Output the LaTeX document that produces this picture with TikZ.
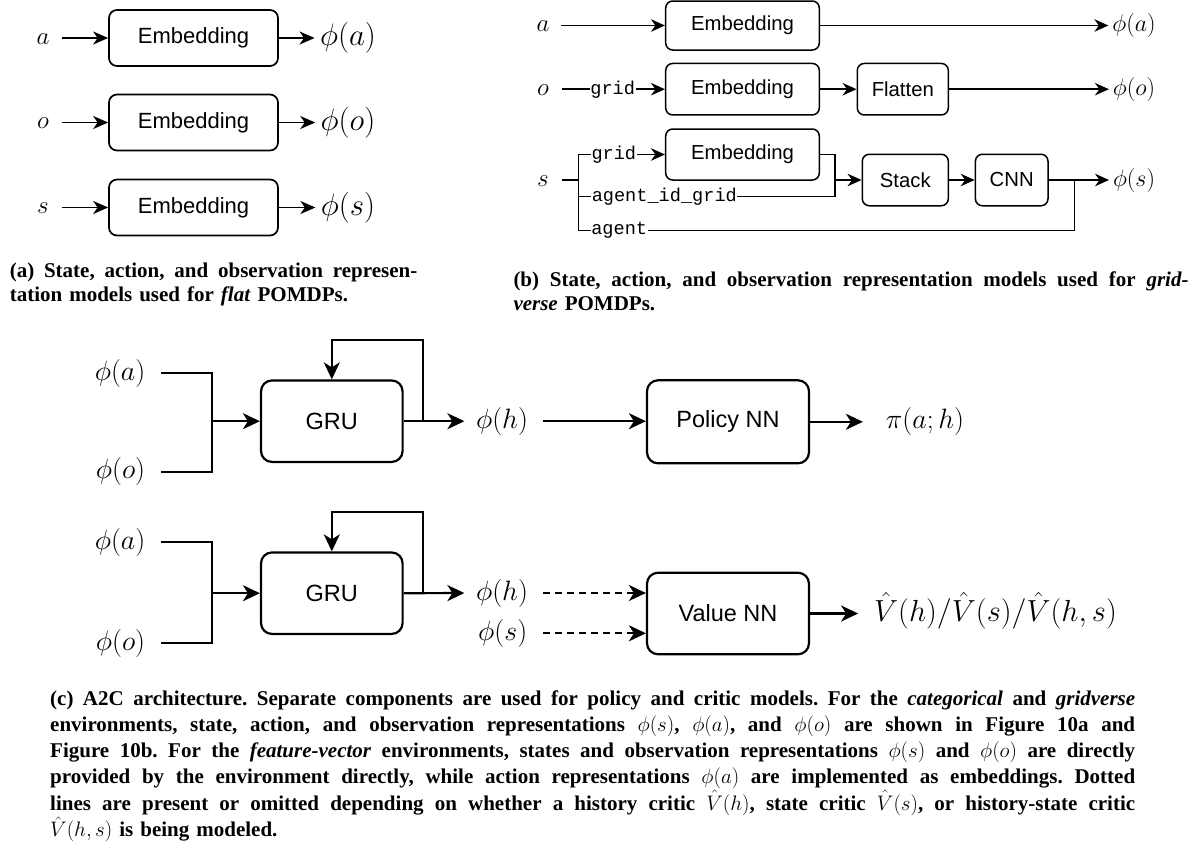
\documentclass[tikz,border=0pt]{standalone}
\usepackage{fix-cm}
\usepackage[no-math]{fontspec}
\newfontfamily\sansbox{Liberation Sans}
\newfontfamily\monobox{Liberation Mono}
\newfontfamily\capfont{Liberation Serif}
\usetikzlibrary{arrows.meta}
\newcommand{\jline}[2]{\makebox[#1][s]{\frenchspacing\spaceskip=0pt\xspaceskip=0pt #2}}
\tikzset{
  mlab/.style={inner sep=0pt, outer sep=0pt, font=\fontsize{#1}{#1}\selectfont, text height={0.75*#1pt}, text depth={0.25*#1pt}},
  boxA/.style={draw, line width=1.7pt, rounded corners=8pt, inner sep=0pt, minimum width=169pt, minimum height=56pt, font=\sansbox\fontsize{22}{24}\selectfont},
  boxB/.style={draw, line width=1.5pt, rounded corners=7pt, inner sep=0pt, minimum height=51.5pt, font=\sansbox\fontsize{20.3}{22}\selectfont},
  boxC/.style={draw, line width=2.2pt, rounded corners=11pt, inner sep=0pt, minimum height=81.5pt, font=\sansbox\fontsize{23.5}{25}\selectfont},
  monol/.style={fill=white, inner sep=0.6pt, font=\monobox\fontsize{18.6}{20}\selectfont},
  captext/.style={inner sep=0pt, anchor=base west, align=left},
  arrA/.style={line width=1.7pt, -{Stealth[length=15pt,width=13pt,inset=4.5pt]}},
  lnB/.style={line width=1.5pt},
  arrB/.style={line width=1.5pt, -{Stealth[length=14pt,width=12.5pt,inset=4.5pt]}},
  lnC/.style={line width=2.2pt},
  arrC/.style={line width=2.2pt, -{Stealth[length=17pt,width=16pt,inset=5pt]}},
  dsh/.style={dash pattern=on 7pt off 5pt},
}
\begin{document}
\begin{tikzpicture}[x=1pt,y=-1pt]
\useasboundingbox (0,0) rectangle (1200,844);

% ---------------- panel (a)
\node[mlab=25] (aa) at (43,38) {$a$};
\node[mlab=25] (ao) at (43,122.5) {$o$};
\node[mlab=25] (as) at (43,207.5) {$s$};
\node[boxA] (ea) at (193.5,38) {Embedding};
\node[boxA] (eo) at (193.5,122.5) {Embedding};
\node[boxA] (es) at (193.5,207.5) {Embedding};
\node[mlab=31] (pa) at (348,38) {$\phi(a)$};
\node[mlab=31] (po) at (348,122.5) {$\phi(o)$};
\node[mlab=31] (ps) at (348,207.5) {$\phi(s)$};
\draw[arrA, shorten <=12.5pt] (aa.east) -- (ea.west);
\draw[arrA, shorten <=13pt] (ao.east) -- (eo.west);
\draw[arrA, shorten <=13pt] (as.east) -- (es.west);
\draw[arrA, shorten >=5.5pt] (ea.east) -- (pa.west);
\draw[arrA, shorten >=5.5pt] (eo.east) -- (po.west);
\draw[arrA, shorten >=5.5pt] (es.east) -- (ps.west);

% ---------------- panel (b)
\node[mlab=25] (ba) at (543,25.5) {$a$};
\node[mlab=25] (bo) at (543,89.2) {$o$};
\node[mlab=25] (bs) at (543,180) {$s$};
\node[boxB, minimum width=153.6pt, minimum height=49pt] (be1) at (742.5,25.5) {Embedding};
\node[boxB, minimum width=153.6pt] (be2) at (742.5,89.2) {Embedding};
\node[boxB, minimum width=153.6pt, minimum height=51pt] (be3) at (742.5,154.5) {Embedding};
\node[boxB, minimum width=91pt] (flat) at (902.8,89.2) {Flatten};
\node[boxB, minimum width=86pt] (stack) at (905.3,180) {Stack};
\node[boxB, minimum width=72.6pt] (cnn) at (1011.7,180) {CNN};
\node[mlab=24] (bpa) at (1134,25.5) {$\phi(a)$};
\node[mlab=24] (bpo) at (1134,89.2) {$\phi(o)$};
\node[mlab=24] (bps) at (1134,180) {$\phi(s)$};
\coordinate (sb) at (578.3,180);
\coordinate (jid) at (835,196.7);
\coordinate (jn) at (835,180);
\coordinate (jag) at (1074.5,230.7);
\coordinate (jag2) at (1074.5,180);
\coordinate (sbid) at (578.3,196.7);
\coordinate (sbag) at (578.3,230.7);

\draw[arrB, shorten <=12pt] (ba.east) -- (be1.west);
\draw[arrB, shorten >=4pt] (be1.east) -- (bpa.west);
\draw[arrB, shorten <=12.7pt] (bo.east) -- node[monol, pos=0.55] {grid} (be2.west);
\draw[arrB] (be2.east) -- (flat.west);
\draw[arrB, shorten >=4pt] (flat.east) -- (bpo.west);
\draw[lnB, shorten <=12.8pt] (bs.east) -- (sb);
\draw[arrB] (sb) |- node[monol, pos=0.705] {grid} (be3.west);
\draw[lnB] (sb) -- (sbid) -- node[monol, pos=0.335] {agent\_id\_grid} (jid) -- (jn);
\draw[lnB] (sbid) -- (sbag) -- node[monol, pos=0.0824] {agent} (jag) -- (jag2);
\draw[arrB] (be3.east) -| (jn) -- (stack.west);
\draw[arrB] (stack.east) -- (cnn.west);
\draw[arrB, shorten >=4pt] (cnn.east) -- (bps.west);

% ---------------- panel (c), top
\node[mlab=28] (ca1) at (120,373) {$\phi(a)$};
\node[mlab=28] (co1) at (120.5,471.7) {$\phi(o)$};
\node[boxC, minimum width=141.6pt] (gru1) at (331.8,421.2) {GRU};
\node[mlab=28] (ch1) at (502,421.2) {$\phi(h)$};
\node[boxC, minimum width=162pt, minimum height=83pt] (pol) at (728,421.8) {Policy NN};
\node[mlab=28] (pi) at (925,421.8) {$\pi(a;h)$};
\coordinate (br1) at (211.6,421.2);
\coordinate (fb1) at (423,421.2);
\coordinate (fbt1) at (423,340);
\draw[lnC, shorten <=16pt] (ca1.east) -| (br1);
\draw[lnC, shorten <=16pt] (co1.east) -| (br1);
\draw[arrC] (br1) -- (gru1.west);
\draw[arrC, shorten >=11.7pt] (gru1.east) -- (ch1.west);
\draw[arrC] (fb1) -- (fbt1) -| (gru1.north);
\draw[arrC, shorten <=15.3pt] (ch1.east) -- (ch1.east -| pol.west);
\draw[arrC, shorten >=23pt] (pol.east) -- (pi.west);

% ---------------- panel (c), bottom
\node[mlab=28] (ca2) at (120,542.3) {$\phi(a)$};
\node[mlab=28] (co2) at (120.5,643.3) {$\phi(o)$};
\node[boxC, minimum width=141.6pt] (gru2) at (331.8,593.2) {GRU};
\node[mlab=28] (ch2) at (502,593) {$\phi(h)$};
\node[mlab=28] (cs2) at (502.7,633.3) {$\phi(s)$};
\node[boxC, minimum width=162pt] (val) at (728,613.5) {Value NN};
\node[mlab=30.5] (vh) at (995.5,613.5) {$\hat{V}(h)/\hat{V}(s)/\hat{V}(h,s)$};
\coordinate (br2) at (211.6,593.2);
\coordinate (fb2) at (423,593.2);
\coordinate (fbt2) at (423,512.3);
\draw[lnC, shorten <=16pt] (ca2.east) -| (br2);
\draw[lnC, shorten <=16pt] (co2.east) -| (br2);
\draw[arrC] (br2) -- (gru2.west);
\draw[arrC, shorten >=11.7pt] (gru2.east) -- (ch2.west);
\draw[arrC] (fb2) -- (fbt2) -| (gru2.north);
\draw[arrC, dsh, shorten <=15.3pt] (ch2.east) -- (ch2.east -| val.west);
\draw[arrC, dsh, shorten <=16pt] (cs2.east) -- (cs2.east -| val.west);
\draw[arrC, shorten >=16pt] (val.east) -- (vh.west);

% ---------------- captions
\node[captext, text width=407.5pt, font=\capfont\bfseries\fontsize{21}{24}\selectfont] (capa) at (9.6,277.5)
  {\jline{407.5pt}{(a) State, action, and observation represen-}\\
   tation models used for \textit{flat} POMDPs.};
\node[captext, text width=675pt, font=\capfont\bfseries\fontsize{21}{24}\selectfont] (capb) at (513.3,286)
  {\jline{675pt}{(b) State, action, and observation representation models used for \textit{grid-}}\\
   \textit{verse} POMDPs.};
\node[captext, text width=1085pt, font=\capfont\bfseries\fontsize{21}{26.3}\selectfont] (capc) at (50,705)
  {\jline{1085pt}{(c) A2C architecture. Separate components are used for policy and critic models. For the \textit{categorical} and \textit{gridverse}}\\
   \jline{1085pt}{environments, state, action, and observation representations $\phi(s)$, $\phi(a)$, and $\phi(o)$ are shown in Figure 10a and}\\
   \jline{1085pt}{Figure 10b. For the \textit{feature-vector} environments, states and observation representations $\phi(s)$ and $\phi(o)$ are directly}\\
   \jline{1085pt}{provided by the environment directly, while action representations $\phi(a)$ are implemented as embeddings. Dotted}\\
   \jline{1085pt}{lines are present or omitted depending on whether a history critic $\hat{V}(h)$, state critic $\hat{V}(s)$, or history-state critic}\\
   $\hat{V}(h,s)$ is being modeled.};
\end{tikzpicture}
\end{document}
